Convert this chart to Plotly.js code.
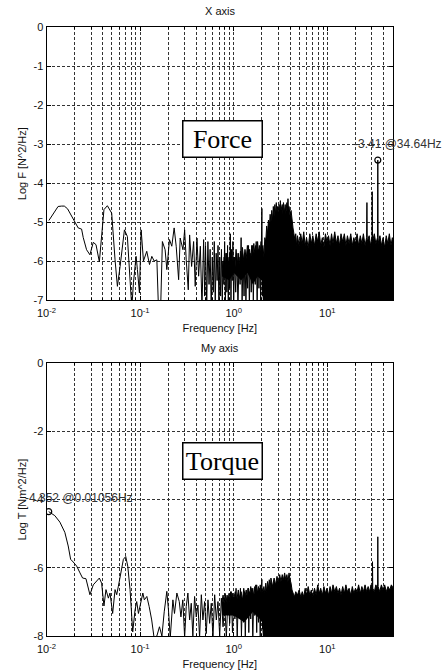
<!DOCTYPE html>
<html>
<head>
<meta charset="utf-8">
<script src="https://cdn.plot.ly/plotly-3.0.1.min.js"></script>
<style>html,body{margin:0;padding:0;background:#fff;}#chart{width:448px;height:672px;}</style>
</head>
<body>
<div id="chart"></div>
<script>
// ---------- Force (X axis) spectrum: low/mid frequency trace ----------
const forceFreq = [
  0.0106,0.0120,0.0133,0.0145,0.0155,0.0168,0.0185,0.0201,0.0218,0.0237,
  0.0247,0.0268,0.0291,0.0316,0.0338,0.0367,0.0390,0.0411,0.0447,0.0497,
  0.0540,0.0572,0.0611,0.0680,0.0731,0.0769,0.0815,0.0849,0.0906,0.0936,
  0.0984,0.1026,0.1086,0.1178,0.126,0.1334,0.1413,0.151,0.157,0.165,
  0.173,0.185,0.193,0.206,0.218,0.231,0.243,0.258,0.268,0.287,
  0.299,0.311,0.327,0.338,0.355,0.373,0.388,0.405,0.422,0.440,
  0.458,0.477,0.490,0.500,0.515,0.530,0.545,0.560,0.575,0.590,
  0.605,0.620,0.635,0.650,0.665,0.680,0.695,0.710,0.725,0.740,
  0.755,0.770,0.785,0.800,0.815,0.830,0.845,0.860,0.875,0.890,
  0.905,0.920,0.935,0.950,0.965,0.980,1.000,1.020,1.050,1.080,
  1.110,1.140,1.170,1.200,1.230,1.260,1.290,1.320,1.350,1.380,
  1.410,1.440,1.470,1.500,1.540,1.580,1.620,1.660,1.700,1.740,
  1.780,1.820,1.860,1.900,1.940,1.980,2.000,2.030,2.080,2.130
];
const forceLog = [
  -4.96,-4.78,-4.60,-4.59,-4.59,-4.66,-4.85,-5.03,-5.15,-5.18,
  -5.40,-5.71,-5.84,-5.52,-5.58,-6.02,-5.20,-4.68,-4.58,-4.77,
  -5.97,-6.65,-6.14,-5.20,-5.37,-6.14,-7.20,-6.56,-5.88,-6.22,
  -6.82,-5.20,-6.00,-5.75,-6.09,-5.88,-6.00,-5.97,-7.20,-7.40,
  -5.50,-5.71,-6.22,-5.45,-5.62,-5.15,-5.62,-6.48,-5.41,-5.71,
  -5.20,-5.97,-6.74,-5.33,-6.14,-5.50,-6.65,-5.41,-6.39,-5.62,
  -7.20,-5.45,-6.90,-5.60,-7.10,-5.50,-6.60,-5.70,-7.20,-5.90,
  -6.80,-5.50,-7.10,-5.80,-6.50,-5.60,-7.20,-5.90,-6.90,-5.70,
  -7.00,-6.00,-6.60,-5.50,-7.10,-5.80,-6.80,-5.60,-7.20,-6.00,
  -6.70,-5.30,-7.00,-5.70,-6.50,-5.50,-7.10,-5.90,-6.80,-5.80,
  -7.20,-5.90,-6.60,-5.40,-7.00,-6.00,-6.90,-5.80,-7.10,-6.10,
  -6.70,-5.60,-7.20,-5.80,-6.80,-5.60,-7.00,-5.90,-6.60,-5.50,
  -7.20,-5.70,-6.70,-5.80,-7.00,-5.40,-4.65,-6.90,-5.90,-7.20
];
// ---------- Force: dense band (local peaks / troughs) ----------
const forceBandFreq = [
  0.75,0.77,0.79,0.81,0.83,0.85,0.87,0.89,0.91,0.93,
  0.95,0.97,
  1.00,1.03,1.06,1.09,1.12,1.15,1.18,1.21,1.24,1.28,
  1.32,1.36,1.40,1.44,1.48,1.52,1.56,1.60,1.64,1.68,
  1.72,1.76,1.80,1.84,1.88,1.92,1.96,2.00,2.05,2.10,
  2.15,2.20,2.25,2.30,2.35,2.40,2.45,2.50,2.55,2.60,
  2.65,2.70,2.75,2.80,2.85,2.90,2.95,3.00,3.05,3.10,
  3.15,3.20,3.30,3.35,3.40,3.50,3.55,3.60,3.70,3.75,
  3.80,3.85,3.90,4.00,4.10,4.20,4.30,4.40,4.50,4.60,
  4.70,4.80,5.00,5.20,5.40,5.60,5.80,6.00,6.25,6.50,
  6.75,7.00,7.30,7.60,7.90,8.20,8.50,8.85,9.20,9.55,
  9.90,10.3,10.7,11.1,11.5,12.0,12.5,13.0,13.5,14.0,
  14.6,15.2,15.8,16.4,17.1,17.8,18.5,19.2,20.0,20.8,
  21.6,22.5,23.4,24.3,25.3,26.3,26.5,26.7,28.0,29.0,
  30.0,30.2,30.4,31.8,33.0,34.4,34.64,34.9,36.5,37.9,
  39.4,41.0,42.6,44.3,46.0,47.9,49.5,50.7
];
const forceBandPeak = [
  -6.0,-6.3,-5.9,-6.2,-5.8,-6.25,-5.9,-6.2,-5.8,-6.1,
  -5.75,-6.2,
  -5.9,-6.2,-5.7,-6.1,-5.8,-6.2,-5.75,-6.0,-5.65,-6.0,
  -5.7,-5.95,-5.6,-5.9,-5.7,-6.0,-5.6,-5.85,-5.55,-5.8,
  -5.6,-5.9,-5.5,-5.8,-5.6,-5.75,-5.5,-5.7,-5.6,-5.9,
  -5.4,-5.5,-5.1,-5.3,-4.95,-5.15,-4.8,-5.0,-4.7,-4.95,
  -4.6,-4.85,-4.55,-4.8,-4.5,-4.75,-4.6,-4.85,-4.55,-4.75,
  -4.45,-4.7,-4.55,-4.8,-4.5,-4.75,-4.55,-4.8,-4.5,-4.7,
  -4.4,-4.75,-4.6,-4.85,-4.7,-5.0,-5.15,-5.3,-5.45,-5.3,
  -5.6,-5.35,-5.6,-5.3,-5.55,-5.25,-5.6,-5.4,-5.65,-5.3,
  -5.55,-5.35,-5.6,-5.3,-5.5,-5.25,-5.6,-5.4,-5.65,-5.3,
  -5.5,-5.35,-5.6,-5.3,-5.55,-5.25,-5.55,-5.35,-5.6,-5.3,
  -5.5,-5.3,-5.6,-5.35,-5.55,-5.3,-5.6,-5.4,-5.55,-5.3,
  -5.6,-5.35,-5.55,-5.3,-5.6,-5.4,-4.5,-5.5,-5.35,-5.6,
  -5.4,-4.22,-5.5,-5.3,-5.55,-5.4,-3.41,-5.55,-5.35,-5.6,
  -5.4,-5.65,-5.35,-5.55,-5.3,-5.6,-5.4,-5.5
];
const forceTroughFreq = [0.75, 0.90, 1.00, 1.20, 1.40, 1.60, 1.80, 2.00, 2.10, 20.0, 50.7];
const forceTrough = [-6.4, -6.5, -6.3, -6.5, -6.3, -6.6, -6.4, -6.5, -7.6, -7.6, -7.6];
const forcePeakFreq = [34.64];
const forcePeakLog = [-3.41];

// ---------- Torque (My axis) spectrum ----------
const torqueFreq = [
  0.01056,0.01227,0.0139,0.0157,0.01706,0.0181,0.0193,0.0210,0.0228,0.0243,
  0.0264,0.0291,0.0316,0.0338,0.0367,0.0388,0.0411,0.0432,0.0458,0.0477,
  0.0509,0.0540,0.0562,0.0586,0.0621,0.0663,0.0702,0.0738,0.0781,0.0834,
  0.0883,0.092,0.096,0.100,0.107,0.111,0.118,0.125,0.133,0.141,
  0.151,0.161,0.171,0.181,0.193,0.201,0.210,0.224,0.233,0.247,
  0.262,0.273,0.286,0.299,0.311,0.324,0.338,0.352,0.366,0.382,
  0.398,0.415,0.432,0.451,0.469,0.489,0.509,0.531,0.553,0.576,
  0.600,0.626,0.652,0.679,0.708,0.738,0.769,0.801,0.834,0.869,
  0.906,0.94,0.97,1.00,1.03,1.06,1.09,1.12,1.15,1.18,
  1.21,1.24,1.27,1.30,1.33,1.36,1.39,1.42,1.45,1.48,
  1.52,1.56,1.60,1.64,1.68,1.72,1.76,1.80,1.84,1.88,
  1.92,1.96,2.00,2.04,2.08
];
const torqueLog = [
  -4.352,-4.47,-4.66,-4.96,-5.36,-5.75,-5.83,-5.95,-6.15,-6.30,
  -6.32,-6.79,-6.50,-6.40,-6.30,-6.45,-7.12,-6.64,-6.89,-6.74,
  -7.34,-6.64,-6.79,-6.54,-6.15,-5.75,-5.67,-5.95,-6.64,-7.88,
  -7.24,-6.99,-7.34,-7.14,-6.74,-6.94,-6.84,-7.14,-7.53,-8.05,
  -8.00,-7.73,-8.00,-7.29,-6.69,-7.24,-8.05,-6.94,-7.34,-6.74,
  -6.99,-7.44,-6.94,-8.05,-7.14,-6.74,-7.53,-7.04,-8.00,-6.84,
  -7.44,-7.09,-8.05,-6.79,-7.53,-6.99,-7.93,-6.94,-7.63,-7.04,
  -8.05,-6.79,-7.53,-6.99,-8.00,-6.89,-7.73,-7.04,-8.05,-6.84,
  -7.63,-6.7,-7.9,-6.9,-7.5,-6.6,-8.1,-6.8,-7.4,-6.6,
  -8.0,-6.9,-7.6,-6.7,-8.1,-6.8,-7.3,-6.6,-7.9,-6.7,
  -7.5,-6.6,-8.1,-6.8,-7.4,-6.5,-7.9,-6.7,-7.6,-6.6,
  -8.1,-6.7,-6.34,-7.8,-6.9
];
const torqueBandFreq = [
  0.75,0.77,0.79,0.81,0.83,0.85,0.87,0.89,0.91,0.93,
  0.95,0.97,
  1.00,1.04,1.08,1.12,1.16,1.20,1.24,1.28,1.32,1.36,
  1.40,1.44,1.48,1.52,1.56,1.60,1.64,1.68,1.72,1.76,
  1.80,1.84,1.88,1.92,1.96,2.00,2.05,2.10,2.15,2.20,
  2.25,2.30,2.35,2.40,2.45,2.50,2.60,2.70,2.80,2.90,
  3.00,3.10,3.20,3.30,3.40,3.50,3.60,3.70,3.80,3.90,
  4.00,4.10,4.20,4.30,4.45,4.60,4.80,5.00,5.20,5.40,
  5.60,5.80,6.00,6.25,6.50,6.75,7.00,7.30,7.60,7.90,
  8.20,8.50,8.85,9.20,9.55,9.90,10.3,10.7,11.1,11.5,
  12.0,12.5,13.0,13.5,14.0,14.6,15.2,15.8,16.4,17.1,
  17.8,18.5,19.2,20.0,20.8,21.6,22.5,23.4,24.3,25.3,
  26.3,27.3,28.3,29.3,30.2,30.4,30.6,31.8,33.0,34.4,
  34.64,34.9,36.3,37.8,39.4,41.0,42.7,44.5,46.4,48.3,
  50.7
];
const torqueBandPeak = [
  -7.0,-6.8,-7.05,-6.75,-7.0,-6.8,-7.1,-6.75,-7.0,-6.7,
  -6.95,-6.75,
  -6.9,-6.7,-6.95,-6.65,-6.9,-6.7,-6.95,-6.6,-6.85,-6.65,
  -6.9,-6.6,-6.85,-6.55,-6.8,-6.6,-6.85,-6.55,-6.8,-6.5,
  -6.75,-6.55,-6.8,-6.5,-6.75,-6.6,-6.7,-6.55,-6.75,-6.45,
  -6.7,-6.4,-6.6,-6.35,-6.6,-6.3,-6.55,-6.3,-6.5,-6.25,
  -6.45,-6.2,-6.4,-6.2,-6.35,-6.15,-6.35,-6.2,-6.4,-6.15,
  -6.35,-6.45,-6.65,-6.75,-6.85,-6.7,-6.8,-6.65,-6.85,-6.7,
  -6.85,-6.6,-6.8,-6.55,-6.8,-6.65,-6.85,-6.6,-6.8,-6.5,
  -6.75,-6.6,-6.8,-6.55,-6.75,-6.6,-6.8,-6.55,-6.75,-6.5,
  -6.7,-6.55,-6.75,-6.6,-6.8,-6.55,-6.75,-6.5,-6.7,-6.6,
  -6.8,-6.55,-6.75,-6.6,-6.7,-6.5,-6.75,-6.55,-6.7,-6.5,
  -6.7,-6.55,-6.7,-6.5,-6.65,-5.82,-6.6,-6.7,-6.5,-6.6,
  -5.09,-6.55,-6.7,-6.5,-6.65,-6.5,-6.7,-6.55,-6.65,-6.5,
  -6.6
];
const torqueTroughFreq = [0.75, 1.00, 1.30, 1.60, 1.90, 2.00, 2.10, 20.0, 50.7];
const torqueTrough = [-7.4, -7.4, -7.6, -7.3, -7.5, -7.6, -8.5, -8.5, -8.5];
const torquePeakFreq = [0.01056];
const torquePeakLog = [-4.352];

// ---------- Tick labels ----------
const xTickVals = [0.01, 0.1, 1, 10];
const xTickText = ['10<sup>-2</sup>', '10<sup>-1</sup>', '10<sup>0</sup>', '10<sup>1</sup>'];
const yTickValsF = [0, -1, -2, -3, -4, -5, -6, -7];
const yTickTextF = ['0', '-1', '-2', '-3', '-4', '-5', '-6', '-7'];
const yTickValsT = [0, -2, -4, -6, -8];
const yTickTextT = ['0', '-2', '-4', '-6', '-8'];

const FONT = 'Liberation Sans, Arial, sans-serif';
const GRID = '#333';
const DASH = '3px,2px';
const XDOM = [0.1038, 0.8779];

function xAxis(anchor) {
  return {
    type: 'log', range: [-2, 1.705], domain: XDOM, anchor: anchor,
    tickmode: 'array', tickvals: xTickVals, ticktext: xTickText,
    ticks: 'inside', ticklen: 4, tickcolor: '#000', ticklabelstandoff: 3,
    showline: true, linecolor: '#000', linewidth: 1, mirror: 'ticks',
    showgrid: true, gridcolor: GRID, griddash: DASH, gridwidth: 1,
    minor: {dtick: 'D1', showgrid: true, gridcolor: GRID, griddash: DASH, gridwidth: 1, ticks: 'inside', ticklen: 2, tickcolor: '#000'},
    tickfont: {family: FONT, size: 11, color: '#111'},
    title: {text: 'Frequency [Hz]', font: {family: FONT, size: 11, color: '#111'}, standoff: 6},
    zeroline: false, fixedrange: true
  };
}
function yAxis(anchor, dom, range, vals, text, title) {
  return {
    range: range, domain: dom, anchor: anchor,
    tickmode: 'array', tickvals: vals, ticktext: text,
    ticks: 'inside', ticklen: 4, tickcolor: '#000',
    showline: true, linecolor: '#000', linewidth: 1, mirror: 'ticks',
    showgrid: true, gridcolor: GRID, griddash: DASH, gridwidth: 1,
    tickfont: {family: FONT, size: 11, color: '#111'},
    title: {text: title, font: {family: FONT, size: 11, color: '#111'}, standoff: 4},
    zeroline: false, fixedrange: true
  };
}

const lineStyle = {color: '#000', width: 1};
const markerStyle = {symbol: 'circle-open', size: 6, color: '#000', line: {width: 1.2, color: '#000'}};
const traces = [
  {x: forceFreq, y: forceLog, xaxis: 'x', yaxis: 'y', mode: 'lines', line: lineStyle},
  {x: forceTroughFreq, y: forceTrough, xaxis: 'x', yaxis: 'y', mode: 'lines', line: {width: 0, color: '#000'}},
  {x: forceBandFreq, y: forceBandPeak, xaxis: 'x', yaxis: 'y', mode: 'lines', line: lineStyle, fill: 'tonexty', fillcolor: '#000'},
  {x: forcePeakFreq, y: forcePeakLog, xaxis: 'x', yaxis: 'y', mode: 'markers', marker: markerStyle},
  {x: torqueFreq, y: torqueLog, xaxis: 'x2', yaxis: 'y2', mode: 'lines', line: lineStyle},
  {x: torqueTroughFreq, y: torqueTrough, xaxis: 'x2', yaxis: 'y2', mode: 'lines', line: {width: 0, color: '#000'}},
  {x: torqueBandFreq, y: torqueBandPeak, xaxis: 'x2', yaxis: 'y2', mode: 'lines', line: lineStyle, fill: 'tonexty', fillcolor: '#000'},
  {x: torquePeakFreq, y: torquePeakLog, xaxis: 'x2', yaxis: 'y2', mode: 'markers', marker: markerStyle}
];

const layout = {
  width: 448, height: 672,
  margin: {l: 0, r: 0, t: 0, b: 0},
  paper_bgcolor: '#fff', plot_bgcolor: '#fff',
  showlegend: false,
  font: {family: FONT, size: 11, color: '#111'},
  xaxis: xAxis('y'),
  yaxis: yAxis('x', [0.5536, 0.9594], [-7, 0], yTickValsF, yTickTextF, 'Log F [N^2/Hz]'),
  xaxis2: xAxis('y2'),
  yaxis2: yAxis('x2', [0.0536, 0.4594], [-8, 0], yTickValsT, yTickTextT, 'Log T [Nm^2/Hz]'),
  annotations: [
    {text: 'X axis', xref: 'paper', yref: 'paper', x: 0.491, y: 1 - 11 / 672, xanchor: 'center', yanchor: 'middle', showarrow: false, font: {family: FONT, size: 11, color: '#111'}},
    {text: 'My axis', xref: 'paper', yref: 'paper', x: 0.491, y: 1 - 348 / 672, xanchor: 'center', yanchor: 'middle', showarrow: false, font: {family: FONT, size: 11, color: '#111'}},
    {text: 'Force', xref: 'paper', yref: 'paper', x: 222 / 448, y: 1 - 139 / 672, xanchor: 'center', yanchor: 'middle', showarrow: false,
     font: {family: 'Liberation Serif, Times New Roman, serif', size: 26, color: '#000'}, bgcolor: '#fff', bordercolor: '#000', borderwidth: 1.5, borderpad: 0, width: 78, height: 35},
    {text: 'Torque', xref: 'paper', yref: 'paper', x: 222 / 448, y: 1 - 461.5 / 672, xanchor: 'center', yanchor: 'middle', showarrow: false,
     font: {family: 'Liberation Serif, Times New Roman, serif', size: 26, color: '#000'}, bgcolor: '#fff', bordercolor: '#000', borderwidth: 1.5, borderpad: 0, width: 78, height: 35},
    {text: forcePeakLog[0] + ' @' + forcePeakFreq[0] + 'Hz', xref: 'paper', yref: 'paper', x: 352 / 448, y: 1 - 144 / 672, xanchor: 'left', yanchor: 'middle', showarrow: false,
     font: {family: FONT, size: 12, color: '#333'}},
    {text: torquePeakLog[0] + ' @' + torquePeakFreq[0] + 'Hz', xref: 'paper', yref: 'paper', x: 23 / 448, y: 1 - 498 / 672, xanchor: 'left', yanchor: 'middle', showarrow: false,
     font: {family: FONT, size: 12, color: '#333'}}
  ]
};

Plotly.newPlot('chart', traces, layout, {staticPlot: true, displayModeBar: false});
</script>
</body>
</html>
